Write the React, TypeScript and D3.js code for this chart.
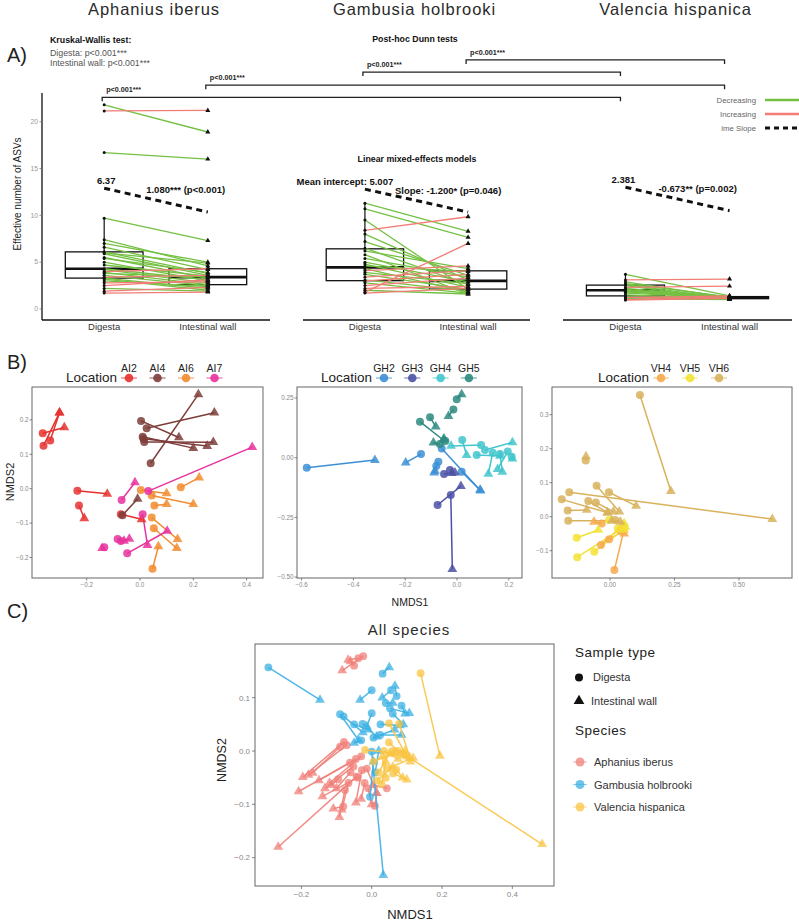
import React from "react";
import * as d3 from "d3";

const FONT = "'Liberation Sans', Arial, Helvetica, sans-serif";

// ---------------- Panel A data ----------------
const speciesNames = ["Aphanius iberus", "Gambusia holbrooki", "Valencia hispanica"];
const sampleTypes = ["Digesta", "Intestinal wall"];
const aphDigesta = [21.8, 21.15, 16.7, 9.7, 7.4, 7.0, 6.6, 6.1, 6.0, 5.9, 5.5, 5.4, 5.0, 4.7, 4.3, 4.2, 4.0, 3.9, 3.8, 3.6, 3.4, 3.3, 3.2, 3.0, 2.8, 2.5, 2.2, 1.9, 1.7];
const aphWall = [18.9, 21.2, 16.0, 7.3, 4.6, 5.0, 4.2, 3.8, 4.9, 3.6, 3.3, 3.9, 3.0, 3.5, 3.1, 2.8, 4.3, 2.6, 3.4, 2.5, 3.6, 2.2, 2.0, 2.4, 2.9, 3.1, 1.9, 2.3, 1.8];
const gamDigesta = [11.3, 10.7, 9.5, 8.4, 8.0, 7.2, 6.5, 6.2, 5.8, 5.4, 5.0, 4.8, 4.6, 4.3, 4.1, 3.9, 3.7, 3.4, 3.1, 3.0, 2.8, 2.5, 2.2, 2.0, 1.8, 1.7];
const gamWall = [8.3, 7.65, 2.1, 9.85, 3.1, 3.6, 2.6, 4.3, 1.6, 3.4, 2.9, 2.3, 4.0, 1.8, 4.6, 2.7, 2.1, 4.1, 1.9, 3.7, 1.7, 3.3, 2.4, 1.6, 7.0, 2.2];
const valDigesta = [3.7, 3.1, 2.9, 2.7, 2.6, 2.5, 2.3, 2.2, 2.1, 2.0, 1.9, 1.8, 1.7, 1.5, 1.3, 1.2, 1.1, 1.0, 0.95];
const valWall = [1.4, 3.2, 1.2, 1.3, 1.1, 1.0, 2.45, 1.3, 1.2, 1.15, 1.0, 1.35, 1.2, 1.1, 1.05, 1.4, 1.0, 1.3, 1.15];
const yTicksA = [0, 5, 10, 15, 20];

const lmeStart = [12.9, 12.8, 13.0];
const lmeEnd = [10.35, 10.35, 10.5];
const lmeInterceptLabels = ["6.37", "Mean intercept: 5.007", "2.381"];
const lmeSlopeLabels = ["1.080*** (p<0.001)", "Slope: -1.200* (p=0.046)", "-0.673** (p=0.002)"];

const bracketFrom = [[1, 2], [1, 1], [0, 2], [0, 1]];
const bracketTo = [[2, 2], [2, 1], [2, 2], [2, 1]];
const bracketLevels = [26.6, 25.3, 23.9, 22.6];
const bracketLabel = "p<0.001***";

const trendLabels = ["Decreasing", "Increasing", "lme Slope"];

// ---------------- Panel B data ----------------
const aphLocations = ["AI2", "AI4", "AI6", "AI7"];
const aphLocColors = ["#e5312f", "#7d3d3a", "#f28c30", "#e7339d"];
const ai2 = [[-0.365, 0.161, -0.284, 0.178], [-0.362, 0.125, -0.302, 0.221], [-0.337, 0.140, -0.302, 0.221], [-0.235, -0.006, -0.123, -0.015], [-0.229, -0.049, -0.209, -0.086], [-0.072, -0.074, 0.006, -0.089]];
const ai4 = [[0.004, 0.197, 0.146, 0.149], [0.025, 0.176, 0.279, 0.221], [0.010, 0.151, 0.200, 0.118], [0.016, 0.136, 0.275, 0.135], [0.040, 0.074, 0.219, 0.274], [0.013, 0.145, 0.252, 0.124], [-0.066, -0.077, -0.009, -0.030]];
const ai6 = [[0.003, -0.004, 0.100, -0.014], [0.044, -0.020, 0.200, -0.045], [0.054, -0.049, 0.100, -0.045], [0.153, 0.004, 0.222, 0.032], [0.044, -0.084, 0.141, -0.147], [0.052, -0.115, 0.138, -0.173], [0.047, -0.233, 0.069, -0.168]];
const ai7 = [[0.031, -0.007, 0.421, 0.121], [-0.069, -0.033, -0.019, 0.018], [0.010, -0.074, 0.028, -0.164], [-0.048, -0.188, 0.102, -0.123], [-0.084, -0.146, -0.060, -0.152], [-0.072, -0.152, -0.040, -0.146], [-0.134, -0.170, -0.142, -0.173]];

const gamLocations = ["GH2", "GH3", "GH4", "GH5"];
const gamLocColors = ["#3d8fd5", "#4b51a5", "#41c6cd", "#2e8b81"];
const gh2 = [[-0.580, -0.042, -0.317, -0.010], [-0.139, 0.015, -0.198, -0.021], [-0.059, 0.039, 0.091, -0.138], [0.018, -0.059, 0.089, -0.135], [-0.072, -0.017, -0.088, -0.063], [-0.080, -0.035, -0.085, -0.055]];
const gh3 = [[-0.024, -0.156, -0.018, -0.467], [-0.075, -0.198, 0.015, -0.119], [-0.050, -0.068, -0.020, -0.065], [-0.027, -0.051, -0.008, -0.063]];
const gh4 = [[0.020, 0.074, 0.037, 0.011], [0.093, 0.053, -0.023, 0.049], [0.108, 0.032, 0.214, 0.064], [0.076, 0.011, 0.166, 0.007], [0.138, 0.021, 0.121, -0.068], [0.166, 0.016, 0.175, -0.059], [0.196, 0.026, 0.157, -0.048], [0.211, 0.004, 0.214, -0.004]];
const gh5 = [[-0.001, 0.245, 0.018, 0.265], [-0.014, 0.202, -0.033, 0.174], [-0.143, 0.151, -0.053, 0.074], [-0.104, 0.169, -0.082, 0.130], [-0.066, 0.057, -0.091, 0.063], [-0.045, 0.070, -0.050, 0.080]];

const valLocations = ["VH4", "VH5", "VH6"];
const valLocColors = ["#f6a94d", "#f3e234", "#d8b25c"];
const vh4 = [[0.017, -0.157, 0.054, -0.039], [-0.035, -0.083, 0.045, -0.029], [-0.003, -0.066, 0.049, -0.044], [-0.032, -0.020, -0.062, -0.015], [0.040, -0.040, 0.055, -0.050]];
const vh5 = [[-0.129, -0.062, -0.045, -0.039], [-0.127, -0.119, 0.058, -0.029], [-0.061, -0.103, 0.052, -0.039], [-0.004, -0.010, 0.055, -0.020], [0.030, -0.035, 0.058, -0.030]];
const vh6 = [[0.116, 0.358, 0.236, 0.075], [-0.158, 0.072, 0.629, -0.007], [-0.094, 0.165, -0.093, 0.177], [-0.187, 0.051, -0.010, 0.012], [-0.164, 0.018, -0.090, 0.020], [-0.052, 0.091, 0.036, 0.015], [-0.004, 0.072, 0.101, 0.032], [-0.084, 0.046, -0.010, 0.012], [-0.055, 0.042, 0.013, 0.015], [-0.162, -0.012, 0.007, -0.012], [0.020, -0.010, 0.040, -0.015]];

// ---------------- Panel C data ----------------
const allSpeciesColors = ["#f07f78", "#3bb0e3", "#f9c443"];
const cAph = [[-0.024, 0.178, -0.084, 0.151], [-0.038, 0.174, -0.067, 0.171], [-0.050, 0.160, -0.060, 0.168], [-0.079, 0.017, -0.196, -0.049], [-0.071, 0.011, -0.180, -0.045], [-0.090, 0.008, -0.168, -0.041], [-0.062, -0.022, -0.208, -0.076], [-0.052, -0.029, -0.133, -0.070], [-0.095, -0.053, -0.114, -0.064], [-0.043, -0.048, -0.266, -0.180], [-0.081, -0.104, -0.109, -0.108], [-0.076, -0.073, -0.092, -0.124], [-0.066, -0.060, -0.085, -0.110], [-0.028, -0.036, -0.045, -0.097], [-0.014, -0.033, 0.014, -0.079], [0.009, -0.103, 0.014, -0.079], [0.043, -0.070, 0.005, -0.064], [-0.040, -0.050, -0.140, -0.085], [-0.060, -0.040, -0.100, -0.070], [-0.030, -0.010, -0.120, -0.060], [-0.020, -0.060, -0.030, -0.090], [-0.010, -0.070, 0.000, -0.100], [-0.045, -0.015, -0.150, -0.055]];
const cGam = [[-0.294, 0.157, -0.147, 0.096], [0.031, 0.145, 0.050, 0.157], [0.000, 0.114, -0.033, 0.096], [0.055, 0.114, 0.030, 0.100], [0.071, 0.103, 0.066, 0.122], [0.052, 0.080, 0.107, 0.071], [-0.090, 0.069, -0.038, 0.021], [-0.080, 0.065, -0.025, 0.035], [-0.026, 0.051, 0.014, 0.027], [0.000, 0.071, -0.014, 0.046], [0.024, 0.030, 0.085, 0.030], [0.005, 0.025, 0.065, 0.040], [0.060, 0.070, 0.090, 0.050], [-0.030, 0.020, -0.050, 0.015], [0.000, -0.001, 0.033, -0.233], [-0.005, -0.086, 0.005, -0.020], [0.010, -0.040, 0.020, 0.000], [0.085, 0.085, 0.095, 0.070], [0.025, 0.050, 0.080, 0.048], [-0.050, 0.050, -0.010, 0.040], [0.040, 0.090, 0.060, 0.090]];
const cVal = [[-0.019, 0.002, 0.071, -0.004], [0.049, 0.052, 0.100, -0.010], [0.078, 0.051, 0.108, -0.012], [0.049, 0.016, 0.090, -0.008], [0.005, -0.020, 0.060, -0.005], [0.061, -0.042, 0.100, -0.054], [0.028, -0.062, 0.040, -0.020], [0.047, -0.032, 0.118, -0.013], [0.070, -0.035, 0.088, -0.050], [0.139, 0.146, 0.194, -0.009], [0.090, -0.005, 0.485, -0.175], [0.020, -0.040, 0.050, -0.005], [0.035, 0.000, 0.075, -0.015], [0.060, 0.000, 0.095, 0.000], [0.040, -0.050, 0.030, -0.010], [0.015, -0.055, 0.060, -0.030], [0.075, 0.000, 0.110, -0.020]];

const GREEN = "#74c043";
const RED = "#f27c76";

const tri = (size: number) => d3.symbol().type(d3.symbolTriangle).size(size)() as string;
const fmt = (f: string) => (v: number) => d3.format(f)(v).replace("-", "\u2212");

function boxStats(vals: number[]) {
  const s = [...vals].sort(d3.ascending);
  const q1 = d3.quantile(s, 0.25) as number;
  const med = d3.quantile(s, 0.5) as number;
  const q3 = d3.quantile(s, 0.75) as number;
  const iqr = q3 - q1;
  const lo = d3.min(s.filter((v) => v >= q1 - 1.5 * iqr)) as number;
  const hi = d3.max(s.filter((v) => v <= q3 + 1.5 * iqr)) as number;
  return { q1, med, q3, lo, hi };
}

const panelEdgesA = [[42, 270], [303, 530], [563, 792]];
const pairsA = [[aphDigesta, aphWall], [gamDigesta, gamWall], [valDigesta, valWall]];
const interceptDx = [2, -20, -2];
const slopeDx = [42, 30, 33];

function PanelA() {
  const yA = d3.scaleLinear().domain([0, 20]).range([309, 121.7]);
  const xScales = panelEdgesA.map(([l, r]) => d3.scaleLinear().domain([0.4, 2.6]).range([l, r]));
  const axisY = 320;
  const out: any[] = [];
  pairsA.forEach(([dig, wall], i) => {
    const xs = xScales[i];
    const hw = xs(1.375) - xs(1);
    const groups = [dig, wall];
    groups.forEach((vals, g) => {
      const st = boxStats(vals);
      const cx = xs(g + 1);
      out.push(
        <g key={`box${i}${g}`}>
          <line x1={cx} x2={cx} y1={yA(st.q3)} y2={yA(st.hi)} stroke="#111" strokeWidth={1.2} />
          <line x1={cx} x2={cx} y1={yA(st.q1)} y2={yA(st.lo)} stroke="#111" strokeWidth={1.2} />
          <rect x={cx - hw} y={yA(st.q3)} width={2 * hw} height={yA(st.q1) - yA(st.q3)} fill="#fff" stroke="#111" strokeWidth={1.3} />
          <line x1={cx - hw} x2={cx + hw} y1={yA(st.med)} y2={yA(st.med)} stroke="#111" strokeWidth={2.6} />
        </g>
      );
    });
    dig.forEach((d, k) => {
      const w = wall[k];
      out.push(
        <line key={`l${i}-${k}`} x1={xs(1)} x2={xs(2)} y1={yA(d)} y2={yA(w)} stroke={w > d ? RED : GREEN} strokeWidth={1.3} />
      );
    });
    dig.forEach((d, k) => {
      out.push(<circle key={`pd${i}-${k}`} cx={xs(1)} cy={yA(d)} r={1.5} fill="#111" />);
      out.push(<path key={`pw${i}-${k}`} d={tri(11)} transform={`translate(${xs(2)},${yA(wall[k])})`} fill="#111" />);
    });
    out.push(
      <line key={`lme${i}`} x1={xs(1)} x2={xs(2)} y1={yA(lmeStart[i])} y2={yA(lmeEnd[i])} stroke="#111" strokeWidth={3} strokeDasharray="6,4.5" />
    );
    out.push(
      <text key={`int${i}`} x={xs(1) + interceptDx[i]} y={yA(lmeStart[i]) - 4.5} textAnchor="middle" fontSize={9.5} fontWeight="bold" fill="#111">{lmeInterceptLabels[i]}</text>
    );
    out.push(
      <text key={`slp${i}`} x={xs(1) + slopeDx[i]} y={yA(lmeStart[i]) + 4.5} fontSize={9.5} fontWeight="bold" fill="#111">{lmeSlopeLabels[i]}</text>
    );
    out.push(<line key={`ax${i}`} x1={panelEdgesA[i][0]} x2={panelEdgesA[i][1]} y1={axisY} y2={axisY} stroke="#111" strokeWidth={1.3} />);
    sampleTypes.forEach((s, g) => {
      out.push(<text key={`xt${i}${g}`} x={xs(g + 1)} y={329.5} textAnchor="middle" fontSize={9.5} fill="#333">{s}</text>);
    });
    out.push(
      <text key={`title${i}`} x={(panelEdgesA[i][0] + panelEdgesA[i][1]) / 2 - 2} y={15} textAnchor="middle" fontSize={16.5} letterSpacing={0.9} fill="#2a2a2a">{speciesNames[i]}</text>
    );
  });
  out.push(<line key="yax" x1={42} x2={42} y1={93} y2={axisY} stroke="#111" strokeWidth={1.3} />);
  yTicksA.forEach((t) => {
    out.push(<line key={`yt${t}`} x1={39.5} x2={42} y1={yA(t)} y2={yA(t)} stroke="#777" strokeWidth={0.8} />);
    out.push(<text key={`ytl${t}`} x={38} y={yA(t) + 2.3} textAnchor="end" fontSize={6.8} fill="#999">{t}</text>);
  });
  out.push(
    <text key="ylab" transform={`translate(21,194) rotate(-90)`} textAnchor="middle" fontSize={10} fill="#222">Effective number of ASVs</text>
  );
  bracketLevels.forEach((lv, b) => {
    const x1 = xScales[bracketFrom[b][0]](bracketFrom[b][1]) - 2;
    const x2 = xScales[bracketTo[b][0]](bracketTo[b][1]) - 5;
    const y = yA(lv);
    out.push(
      <path key={`br${b}`} d={`M${x1},${y + 4}V${y}H${x2}V${y + 4}`} fill="none" stroke="#222" strokeWidth={1.3} />
    );
    out.push(<text key={`brl${b}`} x={x1 + 4} y={y - 5} fontSize={7.2} fontWeight="bold" fill="#222">{bracketLabel}</text>);
  });
  out.push(<text key="A" x={7} y={62} fontSize={20} fill="#222">A)</text>);
  out.push(<text key="kw" x={50} y={43} fontSize={8.8} fontWeight="bold" fill="#111">Kruskal-Wallis test:</text>);
  out.push(<text key="kw1" x={50} y={56} fontSize={8.8} fill="#555">Digesta: p&lt;0.001***</text>);
  out.push(<text key="kw2" x={50} y={66} fontSize={8.8} fill="#555">Intestinal wall: p&lt;0.001***</text>);
  out.push(<text key="dunn" x={415} y={42} textAnchor="middle" fontSize={8.8} fontWeight="bold" fill="#111">Post-hoc Dunn tests</text>);
  out.push(<text key="lmm" x={417} y={162} textAnchor="middle" fontSize={8.8} fontWeight="bold" fill="#111">Linear mixed-effects models</text>);
  const legColors = [GREEN, RED, "#111"];
  trendLabels.forEach((lab, k) => {
    const y = 100 + k * 14;
    out.push(<text key={`lg${k}`} x={756} y={y + 2.8} textAnchor="end" fontSize={7.8} fill="#666">{lab}</text>);
    out.push(
      <line key={`lgl${k}`} x1={765} x2={805} y1={y} y2={y} stroke={legColors[k]} strokeWidth={k === 2 ? 3 : 2.6} strokeDasharray={k === 2 ? "5,4" : undefined} />
    );
  });
  return <g>{out}</g>;
}

type NmdsProps = {
  id: string;
  frame: number[];
  xs: d3.ScaleLinear<number, number>;
  ys: d3.ScaleLinear<number, number>;
  xTicks: number[];
  yTicks: number[];
  xf: (v: number) => string;
  yf: (v: number) => string;
  groups: number[][][];
  colors: string[];
  labels: string[];
  legendX: number;
  keyStep: number;
};

function NmdsPanel(p: NmdsProps) {
  const [x0, x1, y0, y1] = p.frame;
  const els: any[] = [];
  p.groups.forEach((rows, g) => {
    rows.forEach((r, k) => {
      els.push(<line key={`${p.id}l${g}-${k}`} x1={p.xs(r[0])} y1={p.ys(r[1])} x2={p.xs(r[2])} y2={p.ys(r[3])} stroke={p.colors[g]} strokeWidth={1.5} />);
    });
  });
  p.groups.forEach((rows, g) => {
    rows.forEach((r, k) => {
      els.push(<circle key={`${p.id}c${g}-${k}`} cx={p.xs(r[0])} cy={p.ys(r[1])} r={4} fill={p.colors[g]} fillOpacity={0.85} />);
      els.push(<path key={`${p.id}t${g}-${k}`} d={tri(42)} transform={`translate(${p.xs(r[2])},${p.ys(r[3])})`} fill={p.colors[g]} fillOpacity={0.85} />);
    });
  });
  return (
    <g>
      {els}
      <rect x={x0} y={y0} width={x1 - x0} height={y1 - y0} fill="none" stroke="#666" strokeWidth={1} />
      {p.xTicks.map((t) => (
        <g key={`${p.id}xt${t}`}>
          <line x1={p.xs(t)} x2={p.xs(t)} y1={y1} y2={y1 + 2.5} stroke="#666" strokeWidth={0.8} />
          <text x={p.xs(t)} y={y1 + 9} textAnchor="middle" fontSize={6.3} fill="#888">{p.xf(t)}</text>
        </g>
      ))}
      {p.yTicks.map((t) => (
        <g key={`${p.id}yt${t}`}>
          <line x1={x0 - 2.5} x2={x0} y1={p.ys(t)} y2={p.ys(t)} stroke="#666" strokeWidth={0.8} />
          <text x={x0 - 3.5} y={p.ys(t) + 2.2} textAnchor="end" fontSize={6.3} fill="#888">{p.yf(t)}</text>
        </g>
      ))}
      <text x={p.legendX} y={382} fontSize={13.5} fill="#222">Location</text>
      {p.labels.map((lab, k) => {
        const kx = p.legendX + 63 + k * p.keyStep;
        return (
          <g key={`${p.id}lg${k}`}>
            <text x={kx} y={371.5} textAnchor="middle" fontSize={10.5} fill="#222">{lab}</text>
            <line x1={kx - 8} x2={kx + 8} y1={378} y2={378} stroke={p.colors[k]} strokeWidth={1.2} strokeOpacity={0.7} />
            <circle cx={kx} cy={378} r={4.3} fill={p.colors[k]} fillOpacity={0.9} />
          </g>
        );
      })}
    </g>
  );
}

function PanelB() {
  const xsL = d3.scaleLinear().domain([0, 0.2]).range([140, 193.3]);
  const ysL = d3.scaleLinear().domain([0, 0.1]).range([488.7, 454.3]);
  const xsM = d3.scaleLinear().domain([0, 0.2]).range([457, 508.8]);
  const ysM = d3.scaleLinear().domain([0, 0.25]).range([457.7, 398]);
  const xsR = d3.scaleLinear().domain([0, 0.25]).range([610, 674.5]);
  const ysR = d3.scaleLinear().domain([0, 0.1]).range([516.7, 482.7]);
  return (
    <g>
      <text x={7} y={369} fontSize={20} fill="#222">B)</text>
      <NmdsPanel id="bl" frame={[32, 263, 387, 578]} xs={xsL} ys={ysL} xTicks={[-0.2, 0, 0.2, 0.4]} yTicks={[-0.2, -0.1, 0, 0.1, 0.2]} xf={fmt(".1f")} yf={fmt(".1f")} groups={[ai2, ai4, ai6, ai7]} colors={aphLocColors} labels={aphLocations} legendX={66} keyStep={28.5} />
      <NmdsPanel id="bm" frame={[297, 522, 387, 578]} xs={xsM} ys={ysM} xTicks={[-0.6, -0.4, -0.2, 0, 0.2]} yTicks={[-0.5, -0.25, 0, 0.25]} xf={fmt(".1f")} yf={fmt(".2f")} groups={[gh2, gh3, gh4, gh5]} colors={gamLocColors} labels={gamLocations} legendX={321} keyStep={28.3} />
      <NmdsPanel id="br" frame={[552, 792, 387, 578]} xs={xsR} ys={ysR} xTicks={[0, 0.25, 0.5]} yTicks={[-0.1, 0, 0.1, 0.2, 0.3]} xf={fmt(".2f")} yf={fmt(".1f")} groups={[vh4, vh5, vh6]} colors={valLocColors} labels={valLocations} legendX={598} keyStep={29} />
      <text transform="translate(13.5,482) rotate(-90)" textAnchor="middle" fontSize={11} fill="#222">NMDS2</text>
      <text x={410} y={606} textAnchor="middle" fontSize={10.5} fill="#222">NMDS1</text>
    </g>
  );
}

function PanelC() {
  const xs = d3.scaleLinear().domain([0, 0.2]).range([371.7, 442]);
  const ys = d3.scaleLinear().domain([0, 0.1]).range([751, 697.7]);
  const groups = [cAph, cGam, cVal];
  const [x0, x1, y0, y1] = [255, 554, 644, 886];
  const els: any[] = [];
  groups.forEach((rows, g) => {
    rows.forEach((r, k) => {
      els.push(<line key={`cl${g}-${k}`} x1={xs(r[0])} y1={ys(r[1])} x2={xs(r[2])} y2={ys(r[3])} stroke={allSpeciesColors[g]} strokeWidth={1.5} strokeOpacity={0.9} />);
    });
    rows.forEach((r, k) => {
      els.push(<circle key={`cc${g}-${k}`} cx={xs(r[0])} cy={ys(r[1])} r={3.9} fill={allSpeciesColors[g]} fillOpacity={0.75} />);
      els.push(<path key={`ct${g}-${k}`} d={tri(42)} transform={`translate(${xs(r[2])},${ys(r[3])})`} fill={allSpeciesColors[g]} fillOpacity={0.75} />);
    });
  });
  const xTicks = [-0.2, 0, 0.2, 0.4];
  const yTicks = [-0.2, -0.1, 0, 0.1];
  const f = fmt(".1f");
  return (
    <g>
      <text x={7} y={618} fontSize={20} fill="#222">C)</text>
      <text x={409} y={635} textAnchor="middle" fontSize={15} letterSpacing={1} fill="#2a2a2a">All species</text>
      {els}
      <rect x={x0} y={y0} width={x1 - x0} height={y1 - y0} fill="none" stroke="#666" strokeWidth={1} />
      {xTicks.map((t) => (
        <g key={`cx${t}`}>
          <line x1={xs(t)} x2={xs(t)} y1={y1} y2={y1 + 3} stroke="#666" strokeWidth={0.8} />
          <text x={xs(t)} y={y1 + 11} textAnchor="middle" fontSize={8} fill="#888">{f(t)}</text>
        </g>
      ))}
      {yTicks.map((t) => (
        <g key={`cy${t}`}>
          <line x1={x0 - 3} x2={x0} y1={ys(t)} y2={ys(t)} stroke="#666" strokeWidth={0.8} />
          <text x={x0 - 5} y={ys(t) + 2.8} textAnchor="end" fontSize={8} fill="#888">{f(t)}</text>
        </g>
      ))}
      <text transform="translate(225.5,760) rotate(-90)" textAnchor="middle" fontSize={12.5} fill="#222">NMDS2</text>
      <text x={410} y={919} textAnchor="middle" fontSize={13} fill="#222">NMDS1</text>
      <text x={575} y={657} fontSize={13.5} letterSpacing={0.5} fill="#222">Sample type</text>
      <circle cx={579} cy={677.5} r={4} fill="#111" />
      <text x={593} y={681} fontSize={11} fill="#333">{sampleTypes[0]}</text>
      <path d={tri(50)} transform="translate(579,701)" fill="#111" />
      <text x={591} y={705} fontSize={11} fill="#333">{sampleTypes[1]}</text>
      <text x={575} y={735} fontSize={13.5} letterSpacing={0.5} fill="#222">Species</text>
      {speciesNames.map((s, k) => {
        const y = 762 + k * 22.5;
        return (
          <g key={`cs${k}`}>
            <line x1={573} x2={587} y1={y} y2={y} stroke={allSpeciesColors[k]} strokeWidth={1} strokeOpacity={0.6} />
            <circle cx={580} cy={y} r={4.5} fill={allSpeciesColors[k]} fillOpacity={0.75} />
            <text x={594} y={y + 4} fontSize={11} fill="#333">{s}</text>
          </g>
        );
      })}
    </g>
  );
}

export default function App() {
  return (
    <svg width={799} height={922} style={{ position: "absolute", left: 0, top: 0, display: "block" }} fontFamily={FONT}>
      <rect width={799} height={922} fill="#fff" />
      <PanelA />
      <PanelB />
      <PanelC />
    </svg>
  );
}
